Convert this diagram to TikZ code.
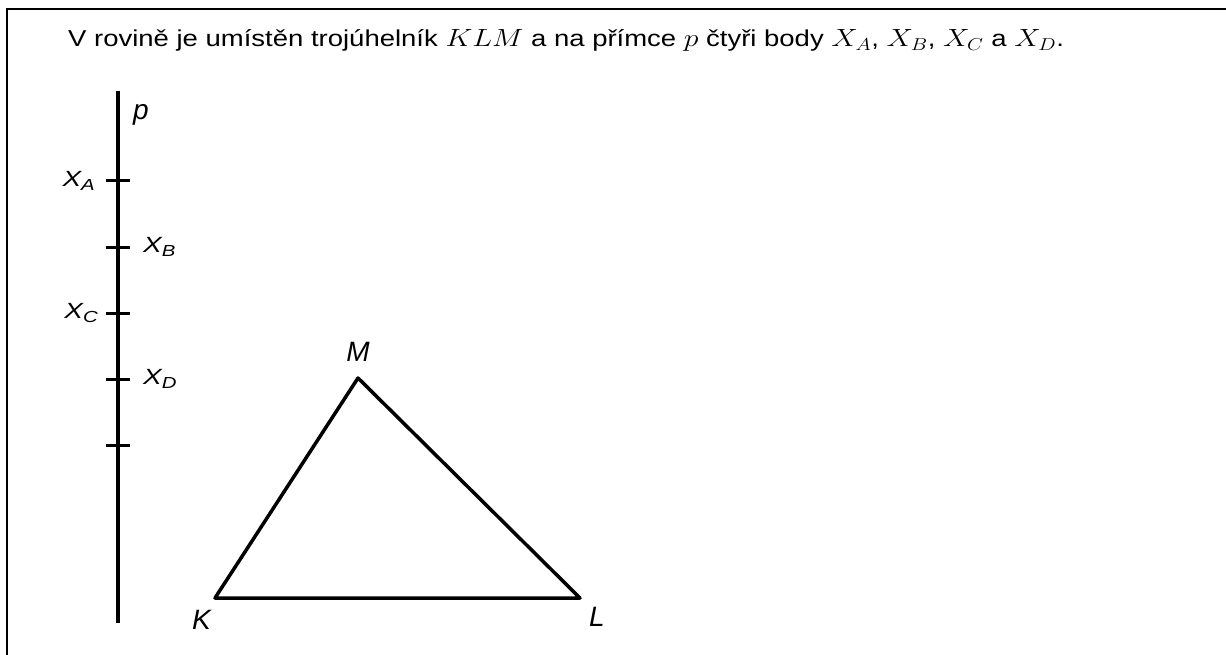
\documentclass[tikz,border=0pt]{standalone}
\usepackage{graphicx}
\usepackage{fontspec}
\setmainfont{Liberation Sans}
\usetikzlibrary{positioning}

\newcommand{\wide}[2][1.27]{\scalebox{#1}[1]{#2}}
\newcommand{\subidx}[1]{\raisebox{-4pt}{\fontsize{16}{16}\selectfont\itshape #1}}

\begin{document}
\begin{tikzpicture}[x=1pt, y=-1pt]
    \tikzstyle{frame} = [line width=2pt]
    \tikzstyle{axis} = [line width=4pt]
    \tikzstyle{tick} = [line width=3pt]
    \tikzstyle{side} = [line width=3.5pt, line join=round]
    \tikzstyle{ptlabel} = [inner sep=0pt, font=\fontsize{22}{26}\selectfont\itshape]
    \tikzstyle{vxlabel} = [inner sep=0pt, font=\fontsize{28}{32}\selectfont\itshape]

    \useasboundingbox (0,0) rectangle (1226,655);
    \draw [frame] (1226,9.5) -| (7,655);

    \node [anchor=base west, inner sep=0pt, font=\fontsize{23}{27}\selectfont] (zadani) at (68,47)
        {\wide[1.195]{V rovině je umístěn trojúhelník $KLM$ a na přímce $p$ čtyři body $X_A$, $X_B$, $X_C$ a $X_D$.}};

    % primka p s body
    \coordinate (ptop) at (118,91);
    \coordinate (pbot) at (118,623);
    \draw [axis] (ptop) -- (pbot);
    \node [vxlabel, anchor=base west] (plabel) at (133,120) {p};

    \foreach \y/\n in {181/A, 247/B, 313/C, 379/D, 445/E} {
        \coordinate (x\n) at (118,\y);
        \draw [tick] ([xshift=-12pt]x\n) -- ([xshift=12pt]x\n);
    }

    \node [ptlabel, left=23pt of xA] (lA) {\wide{X\subidx{A}}};
    \node [ptlabel, right=25pt of xB] (lB) {\wide{X\subidx{B}}};
    \node [ptlabel, left=20pt of xC] (lC) {\wide{X\subidx{C}}};
    \node [ptlabel, right=25pt of xD] (lD) {\wide{X\subidx{D}}};

    % trojuhelnik KLM
    \coordinate (K) at (215,598);
    \coordinate (L) at (580,598);
    \coordinate (M) at (358,378);
    \draw [side] (K) -- (L) -- (M) -- cycle;

    \node [vxlabel, below left=12pt and 4pt of K] (lK) {K};
    \node [vxlabel, below right=9pt and 9pt of L] (lL) {L};
    \node [vxlabel, above=16pt of M] (lM) {M};
\end{tikzpicture}
\end{document}
